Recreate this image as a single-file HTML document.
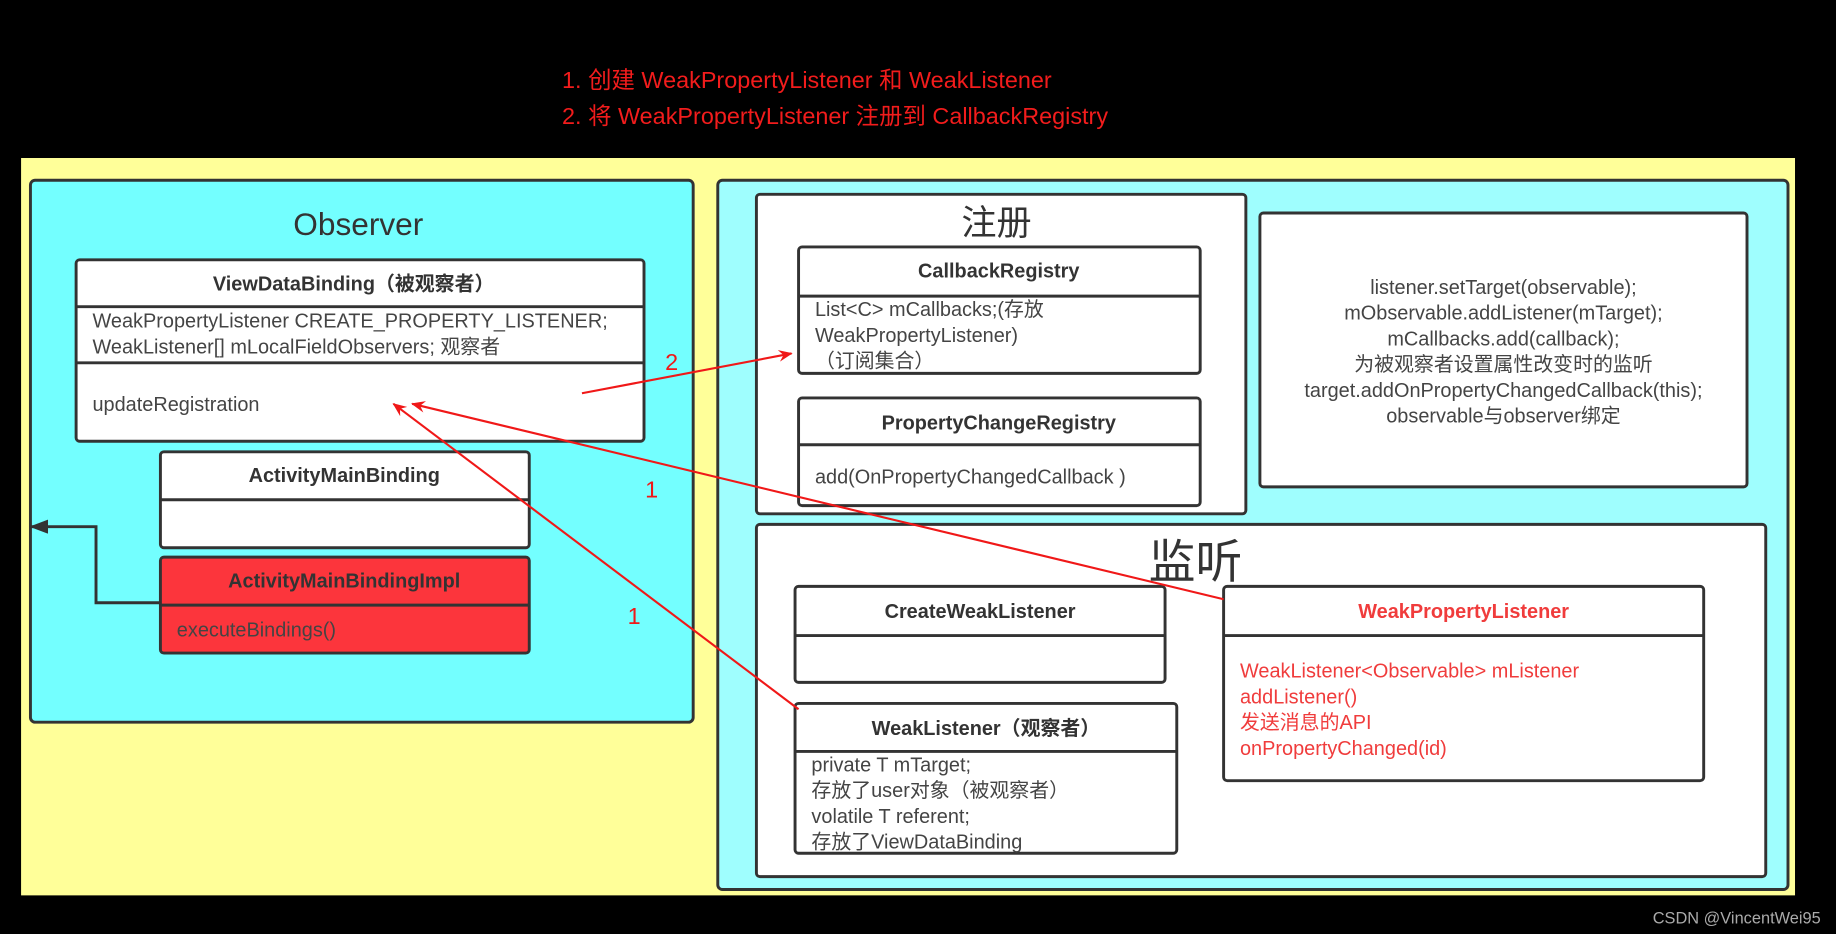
<!DOCTYPE html>
<html><head><meta charset="utf-8"><style>
html,body{margin:0;padding:0;background:#000;}
svg{display:block;}
text{font-family:"Liberation Sans","Noto Sans CJK SC",sans-serif;}
</style></head><body>
<svg width="1836" height="934" viewBox="0 0 1568 798" preserveAspectRatio="none" xmlns="http://www.w3.org/2000/svg">
<defs>
<marker id="ra" markerWidth="12" markerHeight="10" refX="11" refY="5" orient="auto" markerUnits="userSpaceOnUse"><path d="M0,0 L12,5 L0,10 L4,5 Z" fill="#f01818"/></marker>
<marker id="ba" markerWidth="16" markerHeight="12" refX="15" refY="6" orient="auto" markerUnits="userSpaceOnUse"><path d="M0,0 L16,6 L0,12 Z" fill="#333"/></marker>
</defs>
<rect width="1568" height="798" fill="#000"/>
<text x="480" y="75" font-size="20" fill="#f21c1c">1.  创建 WeakPropertyListener 和 WeakListener</text>
<text x="480" y="106" font-size="20" fill="#f21c1c">2.  将 WeakPropertyListener 注册到 CallbackRegistry</text>
<rect x="18" y="135" width="1515" height="630" fill="#ffff99"/>
<!-- left -->
<rect x="26" y="154" width="566" height="463" rx="4" fill="#73ffff" stroke="#333" stroke-width="2.5"/>
<text x="306" y="201" font-size="27" fill="#333" text-anchor="middle">Observer</text>
<g stroke="#333" stroke-width="2.5">
<rect x="65" y="222" width="485" height="155" rx="3" fill="#fff"/>
<line x1="65" y1="262" x2="550" y2="262"/><line x1="65" y1="310" x2="550" y2="310"/>
<rect x="137" y="386" width="315" height="82" rx="3" fill="#fff"/>
<line x1="137" y1="427" x2="452" y2="427"/>
<rect x="137" y="476" width="315" height="82" rx="3" fill="#fc353c"/>
<line x1="137" y1="517" x2="452" y2="517"/>
</g>
<text x="302" y="248" font-size="17" font-weight="bold" fill="#333" text-anchor="middle">ViewDataBinding（被观察者）</text>
<text x="79" y="280" font-size="17" fill="#444">WeakPropertyListener  CREATE_PROPERTY_LISTENER;</text>
<text x="79" y="302" font-size="17" fill="#444">WeakListener[] mLocalFieldObservers;  观察者</text>
<text x="79" y="351" font-size="17" fill="#444">updateRegistration</text>
<text x="294" y="412" font-size="17" font-weight="bold" fill="#333" text-anchor="middle">ActivityMainBinding</text>
<text x="294" y="502" font-size="17" font-weight="bold" fill="#333" text-anchor="middle">ActivityMainBindingImpl</text>
<text x="151" y="544" font-size="17" fill="#444">executeBindings()</text>
<polyline points="137,515 82,515 82,450 26,450" fill="none" stroke="#333" stroke-width="2.5" marker-end="url(#ba)"/>
<!-- right -->
<rect x="613" y="154" width="914" height="606" rx="4" fill="#9ffefe" stroke="#333" stroke-width="2.5"/>
<g stroke="#333" stroke-width="2.5" fill="#fff">
<rect x="646" y="166" width="418" height="273" rx="3"/>
<rect x="682" y="211" width="343" height="108" rx="3"/>
<line x1="682" y1="253" x2="1025" y2="253"/>
<rect x="682" y="340" width="343" height="92" rx="3"/>
<line x1="682" y1="380" x2="1025" y2="380"/>
<rect x="1076" y="182" width="416" height="234" rx="3"/>
<rect x="646" y="448" width="862" height="301" rx="3"/>
<rect x="679" y="501" width="316" height="82" rx="3"/>
<line x1="679" y1="543" x2="995" y2="543"/>
<rect x="679" y="601" width="326" height="128" rx="3"/>
<line x1="679" y1="642" x2="1005" y2="642"/>
<rect x="1045" y="501" width="410" height="166" rx="3"/>
<line x1="1045" y1="543" x2="1455" y2="543"/>
</g>
<text x="851" y="201" font-size="30" fill="#333" text-anchor="middle">注册</text>
<text x="853" y="237" font-size="17" font-weight="bold" fill="#333" text-anchor="middle">CallbackRegistry</text>
<text x="696" y="270" font-size="17" fill="#444">List&lt;C&gt; mCallbacks;(存放</text>
<text x="696" y="292" font-size="17" fill="#444">WeakPropertyListener)</text>
<text x="696" y="314" font-size="17" fill="#444">（订阅集合）</text>
<text x="853" y="367" font-size="17" font-weight="bold" fill="#333" text-anchor="middle">PropertyChangeRegistry</text>
<text x="696" y="413" font-size="17" fill="#444">add(OnPropertyChangedCallback  )</text>
<g font-size="17" fill="#444" text-anchor="middle">
<text x="1284" y="251">listener.setTarget(observable);</text>
<text x="1284" y="273">mObservable.addListener(mTarget);</text>
<text x="1284" y="295">mCallbacks.add(callback);</text>
<text x="1284" y="317">为被观察者设置属性改变时的监听</text>
<text x="1284" y="339">target.addOnPropertyChangedCallback(this);</text>
<text x="1284" y="361">observable与observer绑定</text>
</g>
<text x="1021" y="494" font-size="40" fill="#333" text-anchor="middle">监听</text>
<text x="837" y="528" font-size="17" font-weight="bold" fill="#333" text-anchor="middle">CreateWeakListener</text>
<text x="842" y="628" font-size="17" font-weight="bold" fill="#333" text-anchor="middle">WeakListener（观察者）</text>
<g font-size="17" fill="#444">
<text x="693" y="659">private T mTarget;</text>
<text x="693" y="681">存放了user对象（被观察者）</text>
<text x="693" y="703">volatile T referent;</text>
<text x="693" y="725">存放了ViewDataBinding</text>
</g>
<text x="1250" y="528" font-size="17" font-weight="bold" fill="#f03c3c" text-anchor="middle">WeakPropertyListener</text>
<g font-size="17" fill="#f03c3c">
<text x="1059" y="579">WeakListener&lt;Observable&gt; mListener</text>
<text x="1059" y="601">addListener()</text>
<text x="1059" y="623">发送消息的API</text>
<text x="1059" y="645">onPropertyChanged(id)</text>
</g>
<!-- red arrows -->
<g stroke="#f01818" stroke-width="1.8" fill="none">
<line x1="497" y1="336" x2="676" y2="302" marker-end="url(#ra)"/>
<line x1="1045" y1="512" x2="352" y2="345" marker-end="url(#ra)"/>
<line x1="682" y1="606" x2="336" y2="345" marker-end="url(#ra)"/>
</g>
<g font-size="20" fill="#f01818">
<text x="568" y="316">2</text>
<text x="551" y="425">1</text>
<text x="536" y="533">1</text>
</g>
<text x="1555" y="789" font-size="14" fill="#aaa" text-anchor="end">CSDN @VincentWei95</text>
</svg>
</body></html>
